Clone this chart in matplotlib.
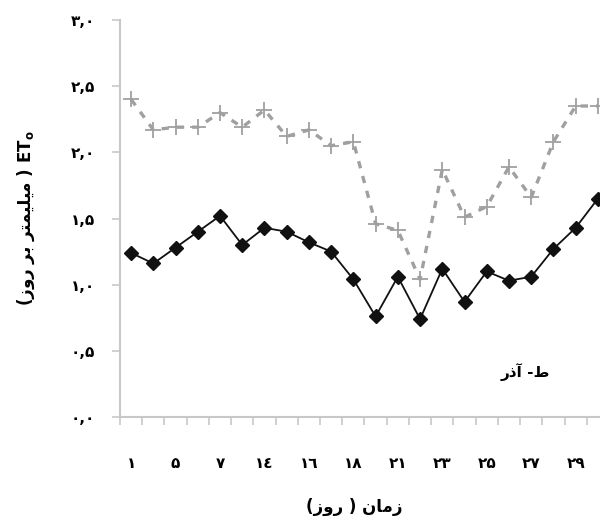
import matplotlib
matplotlib.use("Agg")
import matplotlib.pyplot as plt
import numpy as np

plt.rcParams['font.family'] = ['DejaVu Sans']

# 22 days in the month of Azar
days = np.arange(1, 23)
day_labels = ["۱", "۵", "۷", "۱٤", "۱٦", "۱۸", "۲۱", "۲۳", "۲۵", "۲۷", "۲۹"]

# ETo series (mm/day)
eto_plus = [2.40, 2.17, 2.19, 2.19, 2.30, 2.19, 2.32, 2.12, 2.17, 2.05, 2.08,
            1.46, 1.41, 1.04, 1.87, 1.51, 1.59, 1.89, 1.66, 2.08, 2.35, 2.35]
eto_diamond = [1.24, 1.16, 1.28, 1.40, 1.52, 1.30, 1.43, 1.40, 1.32, 1.25, 1.04,
               0.76, 1.06, 0.74, 1.12, 0.87, 1.10, 1.03, 1.06, 1.27, 1.43, 1.65]

y_ticks = [0.0, 0.5, 1.0, 1.5, 2.0, 2.5, 3.0]
y_labels = ["۰,۰", "۰,۵", "۱,۰", "۱,۵", "۲,۰", "۲,۵", "۳,۰"]

# Persian labels written in visual (left-to-right) order with presentation forms
x_title = "(\uFEAF\uFEED\uFEAD ) \uFEE5\uFE8E\uFEE3\uFEAF"
y_title = "(\uFEAF\uFEED\uFEAD \uFEAE\uFE91 \uFEAE\uFE98\uFEE4\uFEF4\uFEE0\uFEF4\uFEE3 ) ET$_\\mathbf{o}$"
panel_note = "\uFEAD\uFEAB\uFE81 -\uFEC1"

fig = plt.figure(figsize=(6, 5.26), dpi=100)
ax = fig.add_axes([0.2, 0.2072, 0.815, 0.7548])

ax.plot(days, eto_plus, color="#a0a0a0", linestyle=(0, (2.2, 2.4)), linewidth=2.4,
        marker="+", markersize=11, markeredgewidth=1.3, zorder=3)
ax.plot(days, eto_diamond, color="#111111", linewidth=1.3,
        marker="D", markersize=7.5, zorder=4)

ax.set_xlim(0.5, 22.5)
ax.set_ylim(0, 3)

ax.set_yticks(y_ticks)
ax.set_yticklabels(y_labels, fontsize=11, fontweight="bold")
ax.tick_params(axis="y", direction="out", length=6, width=1.2, color="#c8c8c8", pad=12)

ax.set_xticks(np.arange(0.5, 23, 1))
ax.set_xticklabels([])
ax.set_xticks(days[::2], minor=True)
ax.set_xticklabels(day_labels, minor=True, fontsize=11, fontweight="bold")
ax.tick_params(axis="x", which="major", direction="out", length=6, width=1.2, color="#c8c8c8")
ax.tick_params(axis="x", which="minor", length=0, pad=28)

for side in ["top", "right"]:
    ax.spines[side].set_visible(False)
for side in ["left", "bottom"]:
    ax.spines[side].set_color("#c8c8c8")
    ax.spines[side].set_linewidth(1.5)

ax.set_xlabel(x_title, fontsize=12, fontweight="bold")
ax.xaxis.set_label_coords(0.48, -0.205)
ax.set_ylabel(y_title, fontsize=12, fontweight="bold")
ax.yaxis.set_label_coords(-0.17, 0.5)

ax.text(0.828, 0.113, panel_note, transform=ax.transAxes, fontsize=11,
        fontweight="bold", ha="center", va="center")

plt.savefig("out.png", dpi=100)
plt.close(fig)
